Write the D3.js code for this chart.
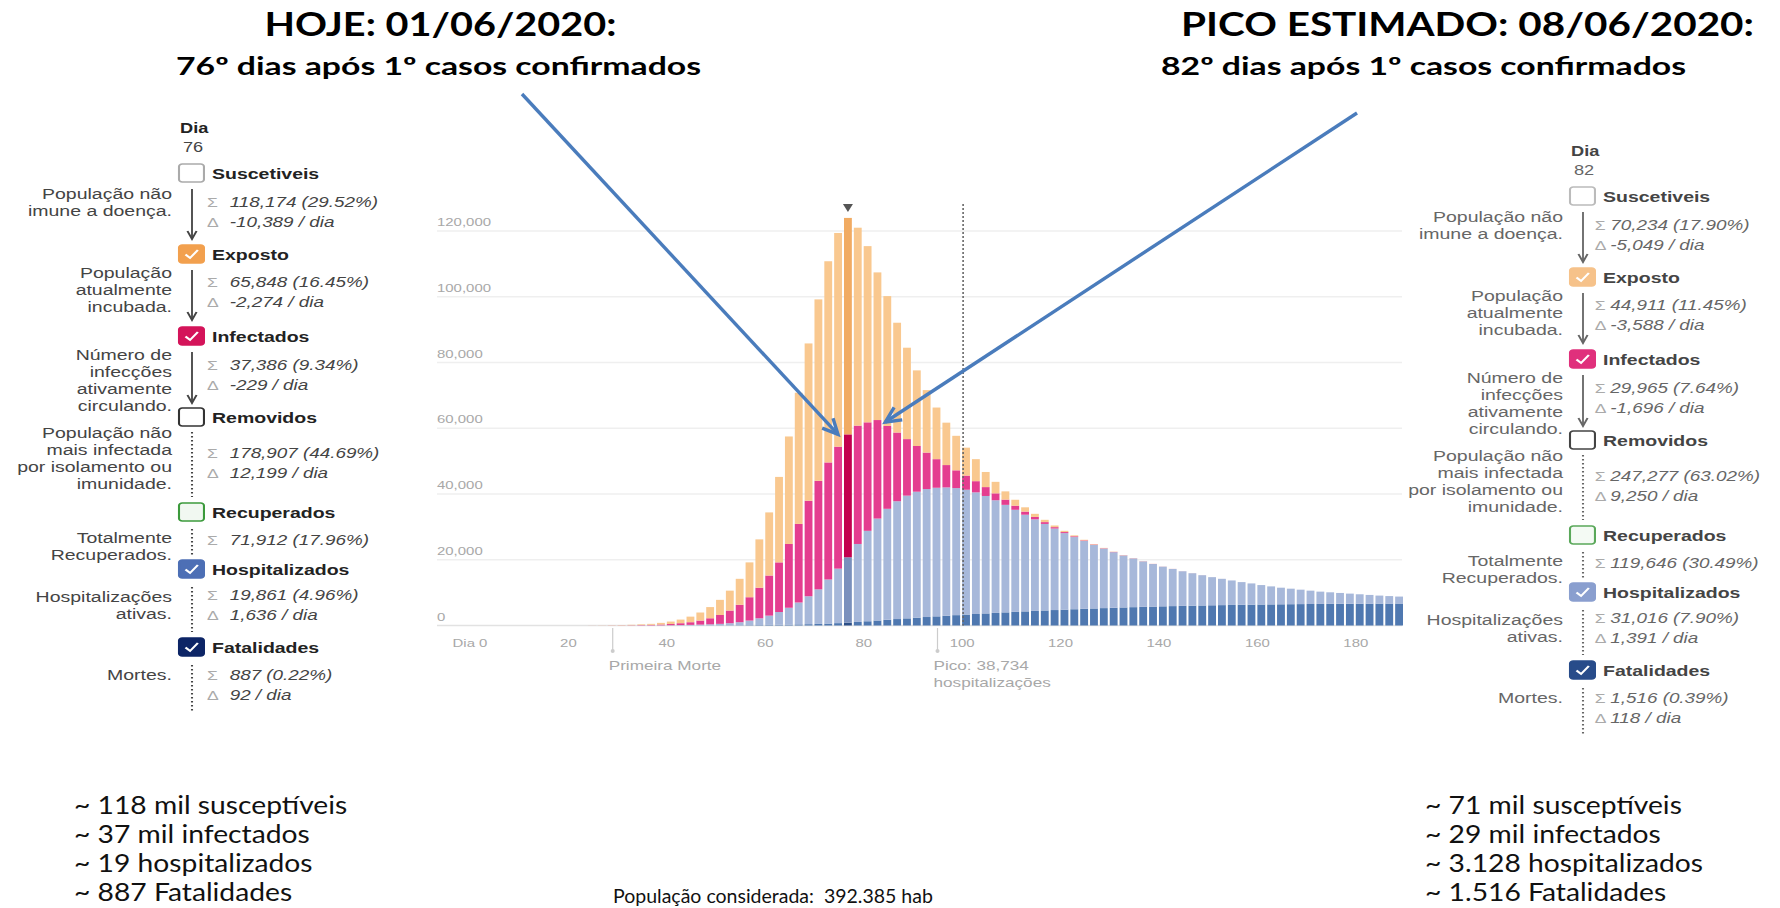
<!DOCTYPE html>
<html lang="pt">
<head>
<meta charset="utf-8">
<title>SEIR - hoje e pico estimado</title>
<script src="https://d3js.org/d3.v7.min.js"></script>
<style>
  body { margin: 0; background: #fff; }
  svg { display: block; }
  .axis-text { font-family: "Liberation Sans", Arial, sans-serif; font-size: 11.5px; fill: #a8a8a8; }
  .note-text { font-family: "Liberation Sans", Arial, sans-serif; font-size: 13.2px; fill: #a8a8a8; }
  .title { font-family: Lato, "Open Sans", sans-serif; font-weight: bold; fill: #000; }
  .bottom { font-family: Lato, "Open Sans", sans-serif; font-size: 25px; fill: #111; }
  .center-note { font-family: Lato, "Open Sans", sans-serif; font-size: 19.5px; fill: #111; }
  .panel text { font-family: "Liberation Sans", Arial, sans-serif; }
</style>
</head>
<body>
<div id="main"></div>
<script>
var width = 1780, height = 908;

// dia do modelo (barras a cada 2 dias)
var days = [24,26,28,30,32,34,36,38,40,42,
            44,46,48,50,52,54,56,58,60,62,
            64,66,68,70,72,74,76,78,80,82,
            84,86,88,90,92,94,96,98,100,102,
            104,106,108,110,112,114,116,118,120,122,
            124,126,128,130,132,134,136,138,140,142,
            144,146,148,150,152,154,156,158,160,162,
            164,166,168,170,172,174,176,178,180,182,
            184,186,188];

var fatalidades = [0,0,0,1,2,3,5,7,10,14,
                   20,28,38,50,65,85,110,140,175,220,
                   270,330,400,480,580,720,887,1080,1290,1516,
                   1740,1960,2170,2380,2580,2780,2970,3150,3330,3500,
                   3670,3830,3990,4140,4290,4430,4570,4700,4830,4950,
                   5070,5180,5290,5390,5490,5580,5670,5750,5830,5900,
                   5970,6030,6090,6150,6200,6250,6300,6340,6380,6420,
                   6450,6480,6510,6540,6560,6580,6600,6620,6640,6650,
                   6660,6670,6680];

var hospitalizados = [0,0,0,4,8,17,30,48,75,116,
                      170,242,332,450,635,915,1390,2060,2825,3880,
                      5130,6670,8500,10520,13420,16580,19861,23720,27510,31016,
                      33760,35840,37330,38320,38920,39120,39030,38650,37970,37000,
                      35730,34270,32710,31060,29410,27870,26330,24800,23270,21950,
                      20630,19320,18110,16910,15810,14820,13830,12950,12070,11300,
                      10530,9870,9210,8550,8000,7450,6900,6460,5920,5480,
                      5050,4720,4390,4060,3740,3520,3300,3080,2860,2650,
                      2440,2280,2120];

var infectados = [8,12,30,45,70,110,165,245,365,570,
                  810,1230,1830,2700,3850,5300,7100,9300,12200,15100,
                  19400,23900,29050,33000,35600,37100,37386,36000,33000,29965,
                  25200,20900,17200,13900,11100,8700,6800,5400,4300,3400,
                  2700,2100,1600,1250,950,720,550,420,320,240,
                  180,140,100,80,60,45,35,25,20,15,
                  12,9,7,5,4,3,2,2,1,1,
                  1,1,0,0,0,0,0,0,0,0,
                  0,0,0];

var expostos = [20,35,60,90,140,220,300,500,750,1100,
                1700,2450,3400,4600,6050,7900,10600,14700,19200,26000,
                32700,39900,47850,55200,61200,65000,65848,60200,53600,44911,
                39500,33400,27800,23000,19000,15700,12900,10500,8500,6700,
                4600,3500,2500,1800,1300,950,700,500,380,280,
                200,150,110,80,60,45,35,25,20,15,
                10,8,6,4,3,2,2,1,1,1,
                0,0,0,0,0,0,0,0,0,0,
                0,0,0];

var hojeDia = 76, picoDia = 82, linhaDia = 100;
var yTicks = [0, 20000, 40000, 60000, 80000, 100000, 120000];
var xTicks = [0, 20, 40, 60, 80, 100, 120, 140, 160, 180];
var xTickLabels = ["Dia 0", "20", "40", "60", "80", "100", "120", "140", "160", "180"];
var notas = [
  {day: 29, lines: ["Primeira Morte"]},
  {day: 95, lines: ["Pico: 38,734", "hospitalizações"]}
];

// painel lateral
var compartimentos = ["Suscetiveis", "Exposto", "Infectados", "Removidos", "Recuperados", "Hospitalizados", "Fatalidades"];
var descricoes = [["População não", "imune a doença."],
                  ["População", "atualmente", "incubada."],
                  ["Número de", "infecções", "ativamente", "circulando."],
                  ["População não", "mais infectada", "por isolamento ou", "imunidade."],
                  ["Totalmente", "Recuperados."],
                  ["Hospitalizações", "ativas."],
                  ["Mortes."]];
var marcados = [false, true, true, false, false, true, true];
var totaisHoje = ["118,174 (29.52%)", "65,848 (16.45%)", "37,386 (9.34%)", "178,907 (44.69%)", "71,912 (17.96%)", "19,861 (4.96%)", "887 (0.22%)"];
var deltasHoje = ["-10,389 / dia", "-2,274 / dia", "-229 / dia", "12,199 / dia", null, "1,636 / dia", "92 / dia"];
var totaisPico = ["70,234 (17.90%)", "44,911 (11.45%)", "29,965 (7.64%)", "247,277 (63.02%)", "119,646 (30.49%)", "31,016 (7.90%)", "1,516 (0.39%)"];
var deltasPico = ["-5,049 / dia", "-3,588 / dia", "-1,696 / dia", "9,250 / dia", null, "1,391 / dia", "118 / dia"];

var resumoHoje = ["~ 118 mil susceptíveis", "~ 37 mil infectados", "~ 19 hospitalizados", "~ 887 Fatalidades"];
var resumoPico = ["~ 71 mil susceptíveis", "~ 29 mil infectados", "~ 3.128 hospitalizados", "~ 1.516 Fatalidades"];
var populacao = "População considerada:\u00a0 392.385 hab";

var svg = d3.select("#main").append("svg")
  .attr("width", width)
  .attr("height", height);

var x = d3.scaleLinear().domain([0, 190]).range([470, 1405]);
var y = d3.scaleLinear().domain([0, 120000]).range([625.5, 231]);
var bw = x(2) - x(0) - 2;
var sx = 1.3; // o print original esta esticado na horizontal

// grade
svg.append("g").selectAll("line")
  .data(yTicks).enter().append("line")
  .attr("x1", 437).attr("x2", 1402)
  .attr("y1", function(d) { return y(d); })
  .attr("y2", function(d) { return y(d); })
  .attr("stroke", function(d) { return d === 0 ? "#e2e2e2" : "#efefef"; })
  .attr("stroke-width", 1.3);

svg.append("g").selectAll("text")
  .data(yTicks).enter().append("text")
  .attr("class", "axis-text")
  .attr("transform", function(d) { return "translate(437," + (y(d) - 5) + ") scale(" + sx + ",1)"; })
  .text(function(d) { return d3.format(",")(d); });

svg.append("g").selectAll("text")
  .data(xTicks).enter().append("text")
  .attr("class", "axis-text")
  .attr("text-anchor", "middle")
  .attr("transform", function(d) { return "translate(" + x(d) + ",647) scale(" + sx + ",1)"; })
  .text(function(d, i) { return xTickLabels[i]; });

// barras empilhadas
var table = days.map(function(d, i) {
  return {day: d, F: fatalidades[i], H: hospitalizados[i], I: infectados[i], E: expostos[i]};
});
var layers = d3.stack().keys(["F", "H", "I", "E"])(table);
var cores = {F: "#4f78b0", H: "#a7b8da", I: "#e43d8f", E: "#f9c88f"};
var coresHoje = {F: "#2c4f87", H: "#7a90bd", I: "#c3004f", E: "#f1ab62"};

svg.append("g").selectAll("g")
  .data(layers).enter().append("g")
  .each(function(layer) {
    d3.select(this).selectAll("rect")
      .data(layer).enter().append("rect")
      .attr("x", function(d) { return x(d.data.day); })
      .attr("width", bw)
      .attr("y", function(d) { return y(d[1]); })
      .attr("height", function(d) { return Math.max(0, y(d[0]) - y(d[1])); })
      .attr("fill", function(d) { return d.data.day === hojeDia ? coresHoje[layer.key] : cores[layer.key]; });
  });

// linha pontilhada
svg.append("line")
  .attr("x1", x(linhaDia) + 1).attr("x2", x(linhaDia) + 1)
  .attr("y1", 204).attr("y2", y(0))
  .attr("stroke", "#666").attr("stroke-width", 1.6)
  .attr("stroke-dasharray", "2,2");

// marcador do dia atual
var cx = x(hojeDia) + bw / 2;
svg.append("path")
  .attr("d", "M" + (cx - 5) + ",204L" + (cx + 5) + ",204L" + cx + ",212Z")
  .attr("fill", "#555");

// notas no eixo
notas.forEach(function(n) {
  var nx = x(n.day);
  svg.append("line").attr("x1", nx).attr("x2", nx).attr("y1", 628).attr("y2", 650)
    .attr("stroke", "#ccc").attr("stroke-width", 1.2);
  svg.append("circle").attr("cx", nx).attr("cy", 651).attr("r", 2).attr("fill", "#ccc");
  n.lines.forEach(function(t, i) {
    svg.append("text").attr("class", "note-text")
      .attr("transform", "translate(" + (nx - 4) + "," + (670 + i * 17) + ") scale(" + sx + ",1)")
      .text(t);
  });
});

// painel lateral
var linhasPainel = [
  {label: 179, desc: 199, stat: 207, c1: 189, c2: 239, kind: "arrow"},
  {label: 260, desc: 278, stat: 287, c1: 270, c2: 320, kind: "arrow"},
  {label: 342, desc: 360, stat: 370, c1: 352, c2: 403, kind: "arrow"},
  {label: 423, desc: 438, stat: 458, c1: 432, c2: 497, kind: "dots"},
  {label: 518, desc: 543, stat: 545, c1: 529, c2: 556, kind: "dots"},
  {label: 575, desc: 602, stat: 600, c1: 587, c2: 632, kind: "dots"},
  {label: 653, desc: 680, stat: 680, c1: 665, c2: 712, kind: "dots"}
];

function drawPanel(ox, oy, dia, totais, deltas, st) {
  var g = svg.append("g").attr("class", "panel")
    .attr("transform", "translate(" + ox + "," + oy + ") scale(" + sx + ",1)");

  g.append("text").attr("x", 0.8).attr("y", 133).attr("font-size", 14).attr("font-weight", "bold")
    .attr("fill", st.label).text("Dia");
  g.append("text").attr("x", 3).attr("y", 152).attr("font-size", 14).attr("fill", st.desc).text(dia);

  linhasPainel.forEach(function(r, i) {
    var top = r.label - 15;
    g.append("rect").attr("x", 0).attr("y", top).attr("width", 19.2).attr("height", 18).attr("rx", 2.5)
      .attr("fill", st.fill[i]).attr("stroke", st.border[i]).attr("stroke-width", 1.6);
    if (marcados[i]) {
      g.append("path").attr("d", "M5," + (top + 9.5) + "L8.5," + (top + 13) + "L14.5," + (top + 5))
        .attr("fill", "none").attr("stroke", "#fff").attr("stroke-width", 1.8);
    }
    g.append("text").attr("x", 25.4).attr("y", r.label).attr("font-size", 15).attr("font-weight", "bold")
      .attr("fill", st.label).text(compartimentos[i]);

    descricoes[i].forEach(function(t, j) {
      g.append("text").attr("x", -5.4).attr("y", r.desc + j * 17).attr("text-anchor", "end")
        .attr("font-size", 15).attr("fill", st.desc).text(t);
    });

    if (r.kind === "arrow") {
      g.append("line").attr("x1", 10).attr("x2", 10).attr("y1", r.c1).attr("y2", r.c2)
        .attr("stroke", st.line).attr("stroke-width", 1.4);
      g.append("path").attr("d", "M6.5," + (r.c2 - 8) + "L10," + r.c2 + "L13.5," + (r.c2 - 8))
        .attr("fill", "none").attr("stroke", st.line).attr("stroke-width", 1.6);
    } else {
      g.append("line").attr("x1", 10).attr("x2", 10).attr("y1", r.c1).attr("y2", r.c2)
        .attr("stroke", st.line).attr("stroke-width", 1.6).attr("stroke-dasharray", "1.6,2.4");
    }

    var stats = [["Σ", totais[i]]];
    if (deltas[i]) stats.push(["Δ", deltas[i]]);
    stats.forEach(function(s, j) {
      var sy = r.stat + j * 20.5;
      g.append("text").attr("x", st.symX).attr("y", sy).attr("font-size", 13.5)
        .attr("fill", "#aaa").text(s[0]);
      g.append("text").attr("x", st.numX).attr("y", sy).attr("font-size", 14.5)
        .attr("font-style", "italic").attr("fill", st.stat).text(s[1]);
    });
  });
}

drawPanel(179, 0, "76", totaisHoje, deltasHoje, {
  label: "#222", desc: "#444", stat: "#444", line: "#444",
  symX: 21.5, numX: 39,
  fill: ["#fff", "#f2a04e", "#d4145a", "#fff", "#f1f8f1", "#4d6fb5", "#0d2566"],
  border: ["#aaa", "#f2a04e", "#d4145a", "#333", "#3c9a3c", "#4d6fb5", "#0d2566"]
});
drawPanel(1570, 23, "82", totaisPico, deltasPico, {
  label: "#444", desc: "#666", stat: "#666", line: "#666",
  symX: 19, numX: 31,
  fill: ["#fff", "#f6c28a", "#e0307c", "#fff", "#f4faf4", "#8a9fcf", "#284c8a"],
  border: ["#bbb", "#f6c28a", "#e0307c", "#444", "#5aa85a", "#8a9fcf", "#284c8a"]
});

// titulos
svg.append("text").attr("class", "title").attr("x", 264.5).attr("y", 36)
  .attr("font-size", 32).attr("textLength", 352).attr("lengthAdjust", "spacingAndGlyphs")
  .text("HOJE: 01/06/2020:");
svg.append("text").attr("class", "title").attr("x", 176).attr("y", 75)
  .attr("font-size", 24).attr("textLength", 525).attr("lengthAdjust", "spacingAndGlyphs")
  .text("76º dias após 1º casos confirmados");
svg.append("text").attr("class", "title").attr("x", 1181).attr("y", 36)
  .attr("font-size", 32).attr("textLength", 573).attr("lengthAdjust", "spacingAndGlyphs")
  .text("PICO ESTIMADO: 08/06/2020:");
svg.append("text").attr("class", "title").attr("x", 1161).attr("y", 75)
  .attr("font-size", 24).attr("textLength", 525).attr("lengthAdjust", "spacingAndGlyphs")
  .text("82º dias após 1º casos confirmados");

// setas
var topoHoje = table.filter(function(d) { return d.day === hojeDia; })[0];
var topoPico = table.filter(function(d) { return d.day === picoDia; })[0];
var setas = [
  {x1: 522, y1: 94, x2: x(hojeDia) - 6, y2: y(topoHoje.F + topoHoje.H + topoHoje.I)},
  {x1: 1357, y1: 113, x2: x(picoDia) + bw + 4, y2: y(topoPico.F + topoPico.H + topoPico.I) + 2}
];
setas.forEach(function(s) {
  var a = Math.atan2(s.y2 - s.y1, s.x2 - s.x1), L = 17, w = 0.45;
  svg.append("line").attr("x1", s.x1).attr("y1", s.y1).attr("x2", s.x2).attr("y2", s.y2)
    .attr("stroke", "#4a7cbc").attr("stroke-width", 3.4);
  svg.append("path")
    .attr("d", "M" + (s.x2 - L * Math.cos(a - w)) + "," + (s.y2 - L * Math.sin(a - w)) +
               "L" + s.x2 + "," + s.y2 +
               "L" + (s.x2 - L * Math.cos(a + w)) + "," + (s.y2 - L * Math.sin(a + w)))
    .attr("fill", "none").attr("stroke", "#4a7cbc").attr("stroke-width", 3.4)
    .attr("stroke-linejoin", "miter");
});

// resumo inferior
resumoHoje.forEach(function(t, i) {
  svg.append("text").attr("class", "bottom")
    .attr("transform", "translate(74," + (814 + i * 29) + ") scale(1.13,1)").text(t);
});
resumoPico.forEach(function(t, i) {
  svg.append("text").attr("class", "bottom")
    .attr("transform", "translate(1425," + (814 + i * 29) + ") scale(1.13,1)").text(t);
});
svg.append("text").attr("class", "center-note").attr("x", 613).attr("y", 903).text(populacao);
</script>
</body>
</html>
